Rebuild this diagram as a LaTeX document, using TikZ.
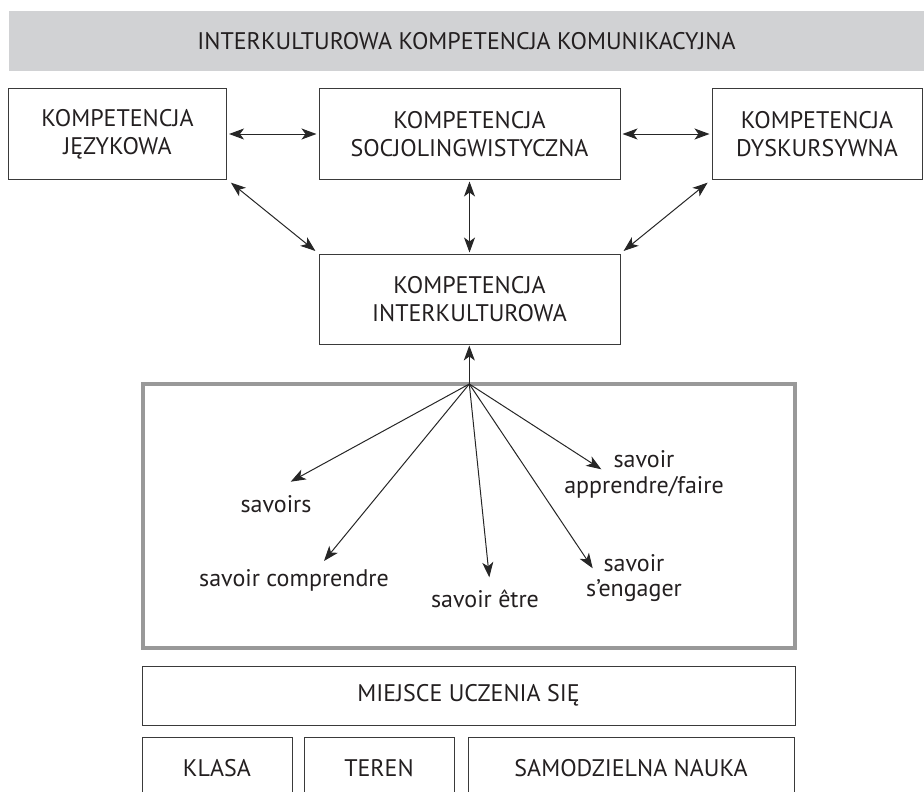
\documentclass[tikz,border=0pt]{standalone}
\usepackage{fontspec}
\setmainfont{PT Sans}
\usetikzlibrary{positioning,arrows.meta}
\definecolor{titleF}{HTML}{D1D2D4}
\definecolor{boxB}{HTML}{3A3A3A}
\definecolor{frameB}{HTML}{999999}
\definecolor{txt}{HTML}{231F20}
\tikzset{
 box/.style={draw=boxB, line width=1pt, align=center, inner sep=0pt, text=txt,
             font=\fontsize{24}{28}\selectfont},
 lab/.style={align=center, inner sep=0pt, text=txt, font=\fontsize{24}{25.6}\selectfont},
 arr/.style={-{Stealth[length=15pt,width=11pt,inset=4pt]}, line width=1pt, draw=black!85},
 biarr/.style={{Stealth[length=15pt,width=11pt,inset=4pt]}-{Stealth[length=15pt,width=11pt,inset=4pt]},
               line width=1pt, draw=black!85},
}
\begin{document}
\begin{tikzpicture}[x=1pt,y=-1pt]
\useasboundingbox (0,0) rectangle (924,792);
\clip (0,0) rectangle (924,792);
% title band
\node[fill=titleF, minimum width=915pt, minimum height=60pt, inner sep=0pt, text=txt,
      font=\fontsize{24}{28}\selectfont] (title) at (466.5,41)
 {INTERKULTUROWA KOMPETENCJA KOMUNIKACYJNA};
% competences
\node[box, minimum width=301pt, minimum height=90pt] (socio) at (469.5,134)
 {KOMPETENCJA\\ SOCJOLINGWISTYCZNA};
\node[box, minimum width=218pt, minimum height=90pt] (jez) at (117.5,134)
 {KOMPETENCJA\\ JĘZYKOWA};
\node[box, minimum width=210pt, minimum height=90pt] (dysk) at (817,134)
 {KOMPETENCJA\\ DYSKURSYWNA};
\node[box, minimum width=301pt, minimum height=90pt, below=74pt of socio] (inter)
 {KOMPETENCJA\\ INTERKULTUROWA};
% savoirs frame
\node[draw=frameB, line width=3.3pt, minimum width=652pt, minimum height=264pt, inner sep=0pt] (frame) at (469,516) {};
\coordinate (hub) at (469.3,384);
\node[lab] (sav) at (276,504) {savoirs};
\node[lab] (comp) at (294,580) {savoir comprendre};
\node[lab] (etre) at (485,599) {savoir être};
\node[lab] (eng) at (634,578) {savoir\\ s’engager};
\node[lab] (appr) at (644,474.5) {savoir\\ apprendre/faire};
\coordinate (tsav) at (290.7,481.7);
\coordinate (tcomp) at (324,561);
\coordinate (tetre) at (489.3,577.3);
\coordinate (teng) at (592.7,568.3);
\coordinate (tappr) at (601.3,469.3);
% places of learning
\node[box, minimum width=653pt, minimum height=59pt] (miejsce) at (468.5,695.5) {MIEJSCE UCZENIA SIĘ};
\node[box, minimum width=150pt, minimum height=62pt] (klasa) at (217,768) {KLASA};
\node[box, minimum width=150pt, minimum height=62pt] (teren) at (379,768) {TEREN};
\node[box, minimum width=326pt, minimum height=62pt] (samo) at (631,768) {SAMODZIELNA NAUKA};
% arrows
\draw[biarr, shorten <=2pt, shorten >=2pt] (jez.east) -- (socio.west);
\draw[biarr, shorten <=2pt, shorten >=2pt] (socio.east) -- (dysk.west);
\draw[biarr, shorten <=5pt, shorten >=4pt] (jez.south east) -- (inter.north west);
\draw[biarr, shorten <=5pt, shorten >=4pt] (dysk.south west) -- (inter.north east);
\draw[biarr, shorten <=2pt, shorten >=1pt] (socio.south) -- (inter.north);
\draw[arr, shorten >=1pt] (hub) -- (hub |- inter.south);
\draw[arr] (hub) -- (tsav);
\draw[arr] (hub) -- (tcomp);
\draw[arr] (hub) -- (tetre);
\draw[arr] (hub) -- (teng);
\draw[arr] (hub) -- (tappr);
\end{tikzpicture}
\end{document}
